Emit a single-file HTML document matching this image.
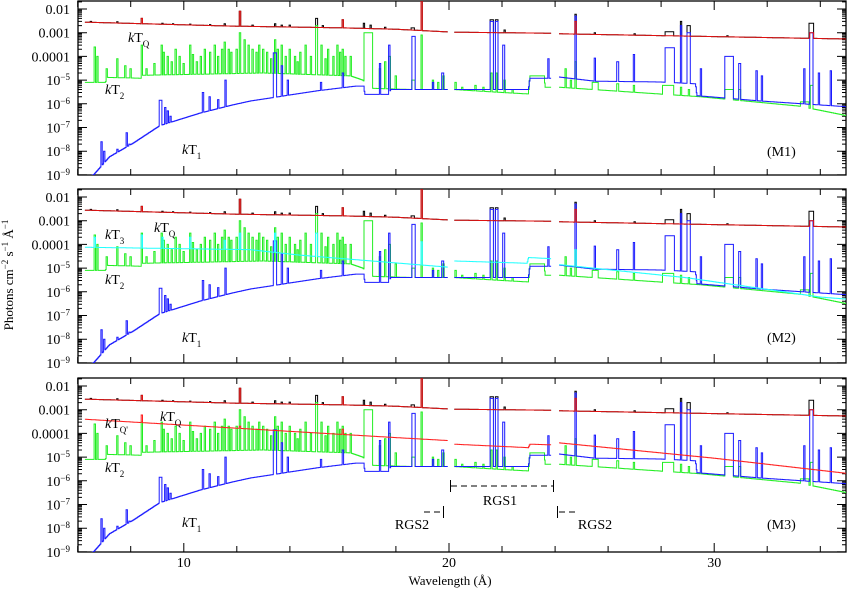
<!DOCTYPE html>
<html><head><meta charset="utf-8"><style>
html,body{margin:0;padding:0;background:#fff}
svg{display:block}
text{font-family:"Liberation Serif",serif;fill:#000}
</style></head><body>
<svg id="chart" width="847" height="592" viewBox="0 0 847 592" xmlns="http://www.w3.org/2000/svg">
<defs>
<clipPath id="c0"><rect x="78" y="1" width="768" height="174"/></clipPath>
<clipPath id="c1"><rect x="78" y="189" width="768" height="174"/></clipPath>
<clipPath id="c2"><rect x="78" y="378" width="768" height="174"/></clipPath>
</defs>
<g id="axes"></g>
<g id="series"></g>
<g id="labels" font-size="14">
<text transform="translate(13,275) rotate(-90)" text-anchor="middle" font-size="13">Photons cm<tspan baseline-shift="super" font-size="9">−2</tspan> s<tspan baseline-shift="super" font-size="9">−1</tspan> Å<tspan baseline-shift="super" font-size="9">−1</tspan></text>
<text x="450" y="585" text-anchor="middle" font-size="13">Wavelength (Å)</text>
<text x="128" y="42"><tspan font-style="italic">k</tspan>T<tspan baseline-shift="sub" font-size="9">Q</tspan></text>
<text x="105" y="94"><tspan font-style="italic">k</tspan>T<tspan baseline-shift="sub" font-size="9">2</tspan></text>
<text x="182" y="154"><tspan font-style="italic">k</tspan>T<tspan baseline-shift="sub" font-size="9">1</tspan></text>
<text x="767" y="156">(M1)</text>
<text x="105" y="239"><tspan font-style="italic">k</tspan>T<tspan baseline-shift="sub" font-size="9">3</tspan></text>
<text x="154" y="232"><tspan font-style="italic">k</tspan>T<tspan baseline-shift="sub" font-size="9">Q</tspan></text>
<text x="105" y="284"><tspan font-style="italic">k</tspan>T<tspan baseline-shift="sub" font-size="9">2</tspan></text>
<text x="182" y="342"><tspan font-style="italic">k</tspan>T<tspan baseline-shift="sub" font-size="9">1</tspan></text>
<text x="767" y="342">(M2)</text>
<text x="105" y="428"><tspan font-style="italic">k</tspan>T<tspan baseline-shift="sub" font-size="9">Q'</tspan></text>
<text x="160" y="421"><tspan font-style="italic">k</tspan>T<tspan baseline-shift="sub" font-size="9">Q</tspan></text>
<text x="105" y="472"><tspan font-style="italic">k</tspan>T<tspan baseline-shift="sub" font-size="9">2</tspan></text>
<text x="182" y="527"><tspan font-style="italic">k</tspan>T<tspan baseline-shift="sub" font-size="9">1</tspan></text>
<text x="767" y="529">(M3)</text>
<g stroke="#000" stroke-width="1" fill="none">
<path d="M450.5 480V492M553.5 480V492"/><path d="M451 486H553" stroke-dasharray="6,4"/>
</g>
<text x="500" y="505" text-anchor="middle">RGS1</text>
<g stroke="#000" stroke-width="1" fill="none">
<path d="M443.5 506V518"/><path d="M424 512H442" stroke-dasharray="6,4"/>
</g>
<text x="412" y="529" text-anchor="middle">RGS2</text>
<g stroke="#000" stroke-width="1" fill="none">
<path d="M557.5 506V518"/><path d="M559 512H577" stroke-dasharray="6,4"/>
</g>
<text x="595" y="529" text-anchor="middle">RGS2</text>
</g>
</svg>
<script>
// ---- data: wavelength ranges (Å) ----
const dataRanges = [[6.27,19.95],[20.2,23.85],[24.15,35.1]];
const xTicks = [10,20,30];
const yTickLabels = ["0.01","0.001","0.0001","10|−5","10|−6","10|−7","10|−8","10|−9"];
const yTickLogs = [-2,-3,-4,-5,-6,-7,-8,-9];

// continuum knots [λ, flux]
const kTqCont = [[6.2,2.8e-3],[11.8,1.9e-3],[16,1.6e-3],[18,1.4e-3],[19.95,1.08e-3],[20.2,1.05e-3],[23.85,9.5e-4],[24.15,9e-4],[35.1,5.4e-4]];
const kTqLines = [[8.42,4e-3],[12.13,8e-3],[16.0,3.5e-3],[18.97,0.03],[24.78,3e-3],[33.67,1e-3,0.12]];
const totalLines = [[6.5,3.0e-3],[7.5,2.9e-3],[8.42,4e-3],[9.2,2.5e-3],[9.6,2.4e-3],[10.25,2.3e-3],[11.0,2.2e-3],[11.55,2.4e-3],[12.13,8e-3],[12.6,2.1e-3],[13.45,2.4e-3],[13.7,2.1e-3],[14.0,2.1e-3],[15.01,4e-3],[15.25,2e-3],[16.0,3.5e-3],[16.8,2.5e-3],[17.05,2.1e-3],[17.6,1.7e-3],[18.63,1.6e-3,0.1],[18.97,0.03],[21.6,3.5e-3,0.1],[21.8,3.5e-3,0.08],[22.1,1.3e-3],[24.78,6e-3],[25.5,1.0e-3],[27.0,9e-4],[28.3,1.1e-3,0.3],[28.74,3e-3],[29.04,2e-3,0.1],[30.5,7.5e-4],[33.67,2.5e-3,0.15]];

const kT2Cont = [[6.2,8e-6],[7.05,8e-6],[7.1,1.3e-5],[8.4,1.2e-5],[8.45,1.6e-5],[11,1.8e-5],[13,2e-5],[16.3,1.5e-5],[16.75,1e-5],[17.1,4.5e-6],[18.6,4e-6],[19.95,4e-6],[20.2,4e-6],[22.0,3e-6],[23.0,2.6e-6],[23.05,1.5e-5],[23.6,1.5e-5],[23.62,5e-6],[23.85,5e-6],[24.15,5e-6],[29.45,2e-6],[33.2,8e-7],[35.1,3e-7]];
const kT2Lines = [[6.65,2.5e-4],[6.75,1e-4],[7.1,3e-5],[7.5,8e-5],[7.8,4e-5],[8.0,3e-5],[8.42,3e-4],[8.6,3e-5],[8.9,5e-5],[9.17,3e-4],[9.25,1.5e-4],[9.4,1e-4],[9.55,6e-5],[9.7,2e-4],[9.85,1e-4],[10.0,5e-5],[10.25,3e-4],[10.35,1.2e-4],[10.5,6e-5],[10.65,1e-4],[10.8,2e-4],[11.0,1.5e-4],[11.17,3e-4],[11.3,1e-4],[11.45,2e-4],[11.55,4e-4],[11.7,2e-4],[11.8,1.5e-4],[12.0,2e-4],[12.13,1e-3],[12.3,5e-4],[12.45,3e-4],[12.6,2e-4],[12.75,1.5e-4],[12.85,3e-4],[13.0,2e-4],[13.15,1.5e-4],[13.3,8e-5],[13.45,5e-4],[13.55,2e-4],[13.7,3e-4],[13.85,1e-4],[14.0,2e-4],[14.2,1e-4],[14.3,6e-5],[14.4,1.5e-4],[14.6,3e-4],[14.8,1e-4],[15.01,2e-3],[15.2,3e-4],[15.35,8e-5],[15.45,2e-4],[15.65,1e-4],[15.8,3e-4],[15.9,1.5e-4],[16.0,2e-4],[16.1,1e-4],[16.3,1e-4],[16.95,1e-3,0.3],[17.05,2e-4],[17.4,3e-5],[17.6,6e-5],[17.76,1e-4],[18.0,1.5e-5],[18.66,1e-5,0.1],[18.97,8e-4],[19.4,1e-5],[19.6,8e-6],[19.8,1.5e-5],[20.25,8e-6],[20.5,5e-6],[21.0,6e-6],[21.3,5e-6],[21.6,2e-5],[21.8,2e-5],[22.1,1e-5],[22.4,4e-6],[24.4,3e-5],[24.6,1e-5],[24.78,6e-5],[25.5,8e-6,0.2],[26.36,7e-6],[26.97,6e-6],[28.25,6e-6,0.4],[28.74,5e-6],[29.04,4e-6],[30.55,4e-6,0.3],[30.96,4e-6],[33.4,1.2e-6,0.3],[33.67,6e-6,0.08]];

const kT1Cont = [[6.3,8e-10],[6.6,1e-9],[7.2,5.8e-9],[8.1,2.2e-8],[9.1,1.2e-7],[10.6,4e-7],[11.85,9e-7],[12.5,1.3e-6],[15,3.5e-6],[16.5,5.6e-6],[16.8,5.6e-6],[16.82,2.5e-6],[17.75,2.5e-6],[17.8,4e-6],[19.95,4e-6],[20.2,4e-6],[23.0,4e-6],[23.05,1.2e-5],[23.85,1.2e-5],[24.15,1.35e-5],[25.5,9e-6],[28.0,8.3e-6],[29.3,7e-6],[29.35,2.2e-6],[31.8,1.3e-6],[35.1,7.4e-7]];
const kT1Lines = [[6.9,2.5e-8],[7.0,1e-8],[7.5,1.2e-8],[7.85,6e-8],[7.95,2e-8],[9.13,1.4e-6,0.08],[9.3,7e-7],[9.4,5e-7],[9.5,3e-7],[10.73,3e-6],[10.98,2e-6],[11.3,1.5e-6],[11.58,1e-5],[13.43,1.4e-4,0.1],[13.7,4e-5],[13.93,1e-5],[15.17,8e-6],[16.0,2e-5],[17.4,5e-5],[17.76,3e-4],[18.66,7e-4,0.08],[19.4,8e-6],[19.76,2e-5],[21.6,3e-3,0.1],[21.8,3e-3,0.08],[22.06,3e-4,0.06],[23.75,8e-5],[24.78,5e-3],[25.5,8.5e-5],[26.36,6e-5],[26.97,1.2e-4],[28.33,2.3e-4,0.33],[28.74,2e-3],[29.04,1e-3,0.1],[29.5,3e-5],[30.55,1e-4,0.3],[30.96,5e-5],[31.6,2.5e-5],[31.8,1.5e-5],[33.4,3e-5],[33.67,1e-3,0.1],[33.95,2e-5],[34.4,2.5e-5]];

const kT3Cont = [[6.2,7.6e-5],[12.5,6e-5],[14.4,3.5e-5],[19.95,1.1e-5],[20.2,2e-5],[22.95,1.6e-5],[23.0,2.8e-5],[23.85,2.5e-5],[24.15,1.4e-5],[28.9,4e-6],[34,6e-7],[35.1,4.8e-7]];
const kT3Lines = [[6.65,2e-4],[8.42,2.5e-4],[9.2,2e-4],[10.25,2e-4],[11.55,1.5e-4],[12.13,3e-4],[13.45,3e-4],[15.01,3e-4],[18.97,1.3e-4],[24.78,6e-5]];

const kTqpCont = [[6.2,4e-4],[18.15,6.5e-5],[19.95,5e-5],[20.2,3.5e-5],[23.0,2.5e-5],[23.05,3.5e-5],[23.85,3.3e-5],[24.15,4e-5],[30,9e-6],[35.1,2e-6]];
const kTqpLines = [[8.42,6e-4],[12.13,2e-4],[16.0,1.5e-4]];

// ---- axes ----
const NS="http://www.w3.org/2000/svg";
const X0=77.7, XS=26.52, panelTops=[1,189,378], DEC=23.7;
function xs(l){return X0+(l-6)*XS;}
function ys(v,p){return panelTops[p]+8+(-2-Math.log10(v))*DEC;}
function yl(lg,p){return panelTops[p]+8+(-2-lg)*DEC;}
function mk(tag,attrs,parent){const e=document.createElementNS(NS,tag);for(const k in attrs)e.setAttribute(k,attrs[k]);parent.appendChild(e);return e;}

function cont(knots,l){
  if(l<=knots[0][0])return knots[0][1];
  for(let i=0;i<knots.length-1;i++){
    const a=knots[i],b=knots[i+1];
    if(l>=a[0]&&l<=b[0]){const t=(l-a[0])/(b[0]-a[0]);return Math.pow(10,Math.log10(a[1])+t*(Math.log10(b[1])-Math.log10(a[1])));}
  }
  return knots[knots.length-1][1];
}
function binVal(knots,lines,l0,l1){
  let v=cont(knots,(l0+l1)/2);
  for(const ln of lines){const w=ln[2]||0.03;if(ln[0]+w/2>l0&&ln[0]-w/2<l1)v=Math.max(v,ln[1]);}
  return v;
}
function seriesPath(knots,lines,p,startL){
  let d="";const bw=0.025;
  for(const r of dataRanges){
    const a=Math.max(r[0],startL||0);if(a>=r[1])continue;
    let l=a,first=true;
    while(l<r[1]-1e-9){
      const l1=Math.min(l+bw,r[1]);
      const y=ys(binVal(knots,lines,l,l1),p).toFixed(1);
      if(first){d+="M"+xs(l).toFixed(1)+" "+y;first=false;}else d+="V"+y;
      d+="H"+xs(l1).toFixed(1);
      l=l1;
    }
  }
  return d;
}

const axesG=document.getElementById('axes');
const serG=document.getElementById('series');
for(let p=0;p<3;p++){
  const top=panelTops[p],bot=top+174;
  const fr=mk('rect',{x:78,y:top,width:768,height:174,fill:'none',stroke:'#000','stroke-width':1.3},axesG);
  
  
  let tk="";
  for(let l=6;l<=35;l+=2){const x=xs(l).toFixed(1);const len=(l%10===0)?9:6;tk+="M"+x+" "+bot+"v-"+len+"M"+x+" "+top+"v"+len;}
  for(let d=-9;d<=-2;d++){
    for(let m=1;m<=9;m++){
      const lg=d+Math.log10(m);if(lg>-1.66)continue;
      const y=yl(lg,p).toFixed(1);const len=m===1?9:4;
      tk+="M78 "+y+"h"+len+"M846 "+y+"h-"+len;
    }
  }
  const tp=mk('path',{d:tk,stroke:'#000','stroke-width':1,fill:'none'},axesG);
  
  
  for(let i=0;i<yTickLogs.length;i++){
    const t=mk('text',{x:70,y:(yl(yTickLogs[i],p)+5).toFixed(1),'text-anchor':'end','font-size':14},axesG);
    
    
    const s=yTickLabels[i];
    if(s.indexOf('|')<0){t.textContent=s;}
    else{const parts=s.split('|');t.appendChild(document.createTextNode(parts[0]));const sp=mk('tspan',{'baseline-shift':'super','font-size':9},t);sp.textContent=parts[1];}
  }
  const g=mk('g',{'clip-path':'url(#c'+p+')',fill:'none','stroke-width':1},serG);
  
  
  const defs=[['total',kTqCont,totalLines,'#000']];
  defs.push(['kT2',kT2Cont,kT2Lines,'#22ee22']);
  defs.push(['kT1',kT1Cont,kT1Lines,'#1a1aff']);
  if(p===1)defs.push(['kT3',kT3Cont,kT3Lines,'#22ffff']);
  if(p===2)defs.push(['kTq-prime',kTqpCont,kTqpLines,'#ff2020']);
  defs.push(['kTq',kTqCont,kTqLines,'#e01010']);
  for(const s of defs){
    const path=mk('path',{d:seriesPath(s[1],s[2],p,s[0]==='kT1'?6.3:0),stroke:s[3]},g);
    
    
  }
}
for(const v of xTicks){
  const t=mk('text',{x:xs(v).toFixed(1),y:567,'text-anchor':'middle','font-size':14},axesG);
  
  
  t.textContent=v;
}
</script>
</body></html>
